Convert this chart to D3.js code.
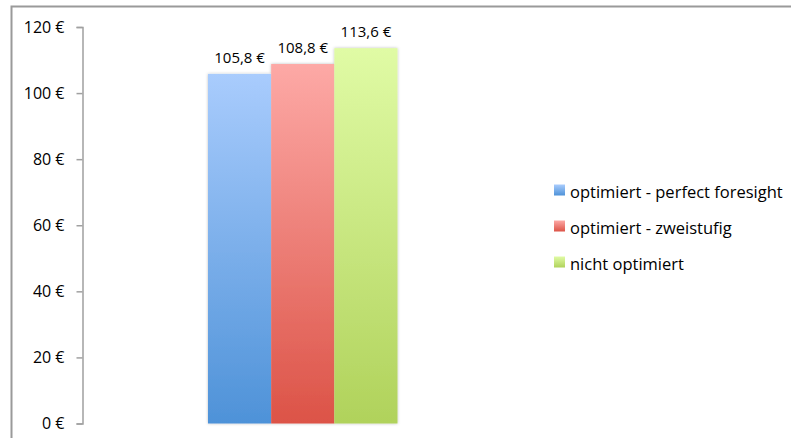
<!DOCTYPE html>
<html>
<head>
<meta charset="utf-8">
<script src="https://cdn.jsdelivr.net/npm/d3@7"></script>
<style>
  html, body { margin: 0; padding: 0; background: #fff; }
  svg { display: block; font-family: "Open Sans", sans-serif; }
</style>
</head>
<body>
<svg id="chart" width="791" height="438"></svg>
<script>
// Kosten je Variante
const categories = ["optimiert - perfect foresight", "optimiert - zweistufig", "nicht optimiert"];
const values = [105.8, 108.8, 113.6];
const tickValues = [0, 20, 40, 60, 80, 100, 120];
const colorsTop = ["#a9ccfd", "#fda9a6", "#e0fba5"];
const colorsBottom = ["#4e92d8", "#dc5347", "#b0d25b"];

const fmt = v => d3.format(".1f")(v).replace(".", ",") + " €";
const FONT = "'Open Sans', sans-serif";

const svg = d3.select("#chart");

// Rahmen (oben und links)
svg.append("path")
  .attr("d", "M11.5,438 V6.5 H791")
  .attr("fill", "none")
  .attr("stroke", "#9a9a9a")
  .attr("stroke-width", 2);

const y = d3.scaleLinear().domain([0, 120]).range([423.5, 27]);
const x = d3.scaleBand().domain(categories).range([208, 397.5]).padding(0);

// Farbverläufe
const defs = svg.append("defs");
categories.forEach((c, i) => {
  const g = defs.append("linearGradient")
    .attr("id", "grad" + i)
    .attr("x1", 0).attr("y1", 0).attr("x2", 0).attr("y2", 1);
  g.append("stop").attr("offset", "0%").attr("stop-color", colorsTop[i]);
  g.append("stop").attr("offset", "100%").attr("stop-color", colorsBottom[i]);
});
const shadow = defs.append("filter").attr("id", "shadow")
  .attr("x", "-10%").attr("y", "-10%").attr("width", "120%").attr("height", "120%");
shadow.append("feDropShadow").attr("dx", 0).attr("dy", 0).attr("stdDeviation", 1.5)
  .attr("flood-color", "#000").attr("flood-opacity", 0.25);

// y-Achse
const axis = d3.axisLeft(y).tickValues(tickValues).tickSize(6).tickPadding(12)
  .tickFormat(d => d + " €");
const gAxis = svg.append("g").attr("transform", "translate(82.5,0)").call(axis);
gAxis.select(".domain").attr("stroke", "#a0a0a0").attr("stroke-width", 1.5);
gAxis.selectAll(".tick line").attr("stroke", "#a0a0a0").attr("stroke-width", 1.5);
gAxis.selectAll(".tick text")
  .attr("fill", "#000")
  .style("font-size", "16px")
  .style("font-family", FONT);

// Balken
svg.append("g").attr("filter", "url(#shadow)")
  .selectAll("rect")
  .data(values)
  .join("rect")
  .attr("x", (d, i) => x(categories[i]))
  .attr("y", d => y(d))
  .attr("width", x.bandwidth())
  .attr("height", d => y(0) - y(d))
  .attr("fill", (d, i) => `url(#grad${i})`);

// Wertebeschriftung
svg.append("g")
  .selectAll("text")
  .data(values)
  .join("text")
  .attr("x", (d, i) => x(categories[i]) + x.bandwidth() / 2)
  .attr("y", d => y(d) - 11)
  .attr("text-anchor", "middle")
  .style("font-size", "15px")
  .style("font-family", FONT)
  .attr("fill", "#000")
  .text(d => fmt(d));

// Legende
const legend = svg.append("g").attr("transform", "translate(554,184.5)");
const items = legend.selectAll("g")
  .data(categories)
  .join("g")
  .attr("transform", (d, i) => `translate(0,${i * 36})`);
items.append("rect")
  .attr("x", 0).attr("y", 0).attr("width", 11).attr("height", 11)
  .attr("fill", (d, i) => `url(#grad${i})`);
items.append("text")
  .attr("x", 16).attr("y", 13.5)
  .style("font-size", "16.5px")
  .style("font-family", FONT)
  .attr("fill", "#000")
  .text(d => d);
</script>
</body>
</html>
